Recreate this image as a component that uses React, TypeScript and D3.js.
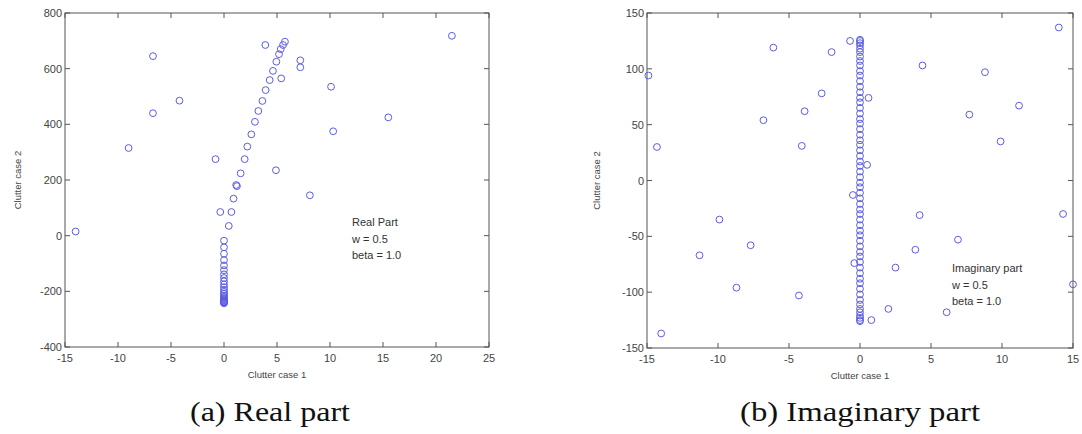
import React from "react";
import * as d3 from "d3";

// ---- Panel (a): Real part ----
const realX: number[] = [
  -6.7, -6.7, -4.2, -9.0, -0.8, 3.9, 21.5, 7.2, 7.2, 5.4, 10.1, 15.5, 10.3, 4.9, 8.1, -14.0,
  5.75, 5.57, 5.35, 5.19, 4.94, 4.62, 4.31, 3.93, 3.62, 3.24, 2.92, 2.58, 2.20, 1.95, 1.57, 1.15, 1.22, 0.9,
  -0.35, 0.7, 0.45,
  0, 0, 0, 0, 0, 0, 0, 0, 0, 0, 0, 0, 0, 0, 0, 0, 0, 0, 0, 0, 0, 0, 0, 0,
];
const realY: number[] = [
  645, 440, 485, 315, 275, 685, 718, 630, 605, 565, 535, 425, 375, 235, 145, 15,
  697, 685, 670, 652, 625, 592, 559, 523, 484, 448, 409, 364, 320, 275, 224, 182, 178, 133,
  85, 85, 35,
  -18, -42, -65, -88, -107, -124, -139, -152, -164, -175, -185, -194, -202, -209, -215, -220, -225, -229, -232, -235, -237, -239, -241, -243,
];
const realXTicks: number[] = [-15, -10, -5, 0, 5, 10, 15, 20, 25];
const realYTicks: number[] = [-400, -200, 0, 200, 400, 600, 800];
const realNote: string[] = ["Real Part", "w = 0.5", "beta = 1.0"];

// ---- Panel (b): Imaginary part ----
const imagOutX: number[] = [
  -14.9, -14.3, -6.1, -6.8, -3.9, -4.1, -2.7, 14.0, -0.7, -2.0, 4.4, 8.8, 11.2, 7.7, 9.9, 0.6, 0.5, -0.5,
  4.2, 14.3, 6.9, 3.9, 2.5, -0.4, 15.0, -4.3, 2.0, 6.1, 0.8, -9.9, -7.7, -11.3, -8.7, -14.0,
];
const imagOutY: number[] = [
  94, 30, 119, 54, 62, 31, 78, 137, 125, 115, 103, 97, 67, 59, 35, 74, 14, -13,
  -31, -30, -53, -62, -78, -74, -93, -103, -115, -118, -125, -35, -58, -67, -96, -137,
];
const imagColY: number[] = [
  126, 125, 123, 121, 118, 115, 111, 107, 103, 98, 94, 89, 84, 79, 74, 70, 65, 60, 55, 51, 46, 41, 36, 32,
  27, 22, 17, 13, 8, 3, -2, -6, -11, -16, -21, -26, -30, -35, -40, -45, -49, -54, -59, -64, -68, -73,
  -78, -83, -88, -92, -97, -102, -107, -111, -115, -118, -121, -123, -125, -126,
];
const imagXTicks: number[] = [-15, -10, -5, 0, 5, 10, 15];
const imagYTicks: number[] = [-150, -100, -50, 0, 50, 100, 150];
const imagNote: string[] = ["Imaginary part", "w = 0.5", "beta = 1.0"];

const xLabel = "Clutter case 1";
const yLabel = "Clutter case 2";
const captions: string[] = ["(a) Real part", "(b) Imaginary part"];

const AXIS = "#555";
const TXT = "#444";
const MARK = "#5c5ce0";

type PanelProps = {
  xs: number[];
  ys: number[];
  xDom: [number, number];
  yDom: [number, number];
  x0: number;
  x1: number;
  y0: number;
  y1: number;
  xTicks: number[];
  yTicks: number[];
  note: string[];
  noteX: number;
  noteY: number;
  yLabelX: number;
};

function Panel(p: PanelProps) {
  const x = d3.scaleLinear().domain(p.xDom).range([p.x0, p.x1]);
  const y = d3.scaleLinear().domain(p.yDom).range([p.y1, p.y0]);
  const tl = 5;
  const cx = (p.x0 + p.x1) / 2;
  const cy = (p.y0 + p.y1) / 2;
  return (
    <g>
      <rect x={p.x0} y={p.y0} width={p.x1 - p.x0} height={p.y1 - p.y0} fill="white" stroke={AXIS} strokeWidth={1} />
      {p.xTicks.map((t) => (
        <g key={"xt" + t}>
          <line x1={x(t)} x2={x(t)} y1={p.y1} y2={p.y1 - tl} stroke={AXIS} />
          <line x1={x(t)} x2={x(t)} y1={p.y0} y2={p.y0 + tl} stroke={AXIS} />
          <text x={x(t)} y={p.y1 + 15} textAnchor="middle" fontSize={11} fill={TXT} fontFamily="Liberation Sans, Arial, sans-serif">
            {t}
          </text>
        </g>
      ))}
      {p.yTicks.map((t) => (
        <g key={"yt" + t}>
          <line x1={p.x0} x2={p.x0 + tl} y1={y(t)} y2={y(t)} stroke={AXIS} />
          <line x1={p.x1} x2={p.x1 - tl} y1={y(t)} y2={y(t)} stroke={AXIS} />
          <text x={p.x0 - 3} y={y(t) + 4} textAnchor="end" fontSize={11} fill={TXT} fontFamily="Liberation Sans, Arial, sans-serif">
            {t}
          </text>
        </g>
      ))}
      {p.xs.map((v, i) => (
        <circle key={"p" + i} cx={x(v)} cy={y(p.ys[i])} r={3.4} fill="none" stroke={MARK} strokeWidth={1} />
      ))}
      {p.note.map((s, i) => (
        <text key={"n" + i} x={p.noteX} y={p.noteY + i * 16.5} fontSize={11} fill="#333" fontFamily="Liberation Sans, Arial, sans-serif">
          {s}
        </text>
      ))}
      <text x={cx} y={p.y1 + 31} textAnchor="middle" fontSize={9.5} fill={TXT} fontFamily="Liberation Sans, Arial, sans-serif">
        {xLabel}
      </text>
      <text
        transform={`translate(${p.yLabelX},${cy}) rotate(-90)`}
        textAnchor="middle"
        fontSize={9.5}
        fill={TXT}
        fontFamily="Liberation Sans, Arial, sans-serif"
      >
        {yLabel}
      </text>
    </g>
  );
}

export default function App() {
  const imagXs = [...imagOutX, ...imagColY.map(() => 0)];
  const imagYs = [...imagOutY, ...imagColY];
  return (
    <svg width={1082} height={434} style={{ position: "absolute", left: 0, top: 0, background: "white" }}>
      <Panel
        xs={realX}
        ys={realY}
        xDom={[-15, 25]}
        yDom={[-400, 800]}
        x0={65}
        x1={489}
        y0={13}
        y1={347}
        xTicks={realXTicks}
        yTicks={realYTicks}
        note={realNote}
        noteX={352}
        noteY={226}
        yLabelX={21}
      />
      <Panel
        xs={imagXs}
        ys={imagYs}
        xDom={[-15, 15]}
        yDom={[-150, 150]}
        x0={647}
        x1={1073}
        y0={13}
        y1={348}
        xTicks={imagXTicks}
        yTicks={imagYTicks}
        note={imagNote}
        noteX={952}
        noteY={272}
        yLabelX={600}
      />
      <text x={190} y={421} textLength={160} lengthAdjust="spacingAndGlyphs" fontSize={27} fill="#111" fontFamily="Liberation Serif, serif">
        {captions[0]}
      </text>
      <text x={740} y={421} textLength={240} lengthAdjust="spacingAndGlyphs" fontSize={27} fill="#111" fontFamily="Liberation Serif, serif">
        {captions[1]}
      </text>
    </svg>
  );
}
